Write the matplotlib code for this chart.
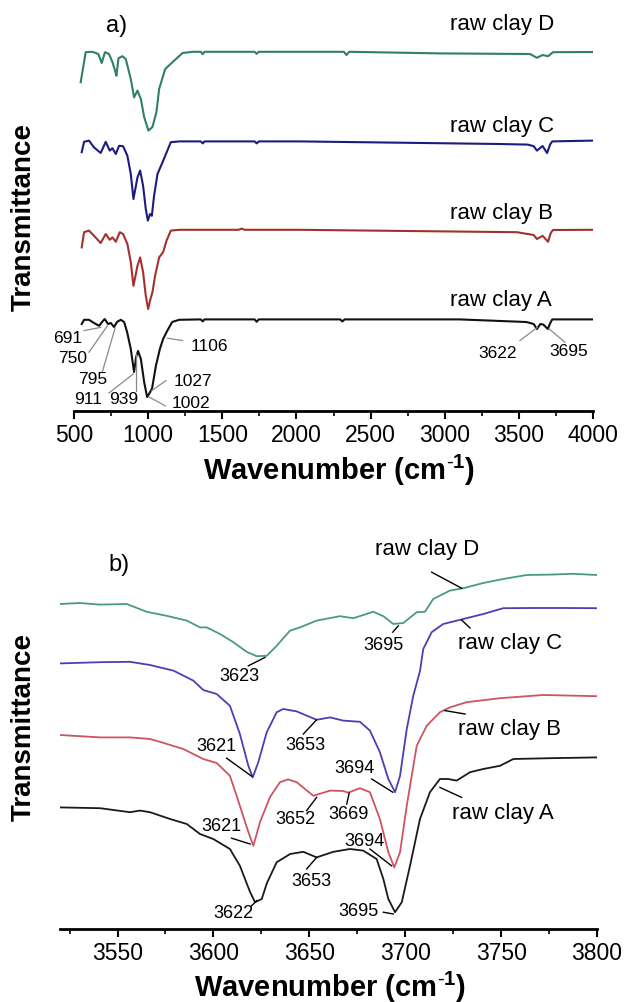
import numpy as np
import matplotlib.pyplot as plt
from matplotlib.ticker import MultipleLocator

plt.rcParams['font.family'] = ['Liberation Sans', 'DejaVu Sans']
plt.rcParams['mathtext.fontset'] = 'custom'
plt.rcParams['mathtext.rm'] = 'Liberation Sans'
plt.rcParams['mathtext.bf'] = 'Liberation Sans:bold'

# ---- panel a) full range, (wavenumber, transmittance a.u., stacked)
a_A = np.array([(552, 23.75), (568, 24.8), (601, 24.8), (635, 24.0), (669, 23.3), (689, 24.25),
                (707, 25.0), (730, 23.75), (748, 24.0), (770, 23.0), (791, 24.3), (816, 24.8),
                (838, 24.25), (858, 21.75), (883, 17.5), (905, 11.75), (919, 15.5), (932, 17.0),
                (951, 15.0), (973, 9.25), (993, 5.5), (1014, 6.75), (1027, 7.75), (1052, 13.25),
                (1079, 17.5), (1101, 20.0), (1128, 22.0), (1162, 24.25), (1209, 24.8), (1355, 24.9),
                (1368, 24.4), (1380, 24.9), (1718, 24.9), (1732, 24.3), (1746, 24.9), (2295, 24.9),
                (2310, 24.4), (2325, 24.9), (3100, 24.9), (3550, 24.25), (3600, 23.75), (3622, 22.5),
                (3645, 23.75), (3665, 23.6), (3695, 22.5), (3712, 24.0), (3725, 24.9), (4000, 24.9)])
a_B = np.array([(552, 42.9), (568, 46.7), (601, 47.1), (635, 45.8), (680, 44.0), (714, 46.25),
                (741, 44.8), (759, 45.4), (782, 44.3), (809, 46.7), (831, 46.25), (860, 43.75),
                (883, 39.2), (901, 33.3), (928, 38.3), (946, 40.4), (966, 36.7), (984, 30.8),
                (1000, 27.5), (1013, 29.6), (1029, 31.7), (1047, 35.8), (1074, 40.4), (1101, 41.7),
                (1124, 44.6), (1153, 47.1), (1210, 47.3), (1610, 47.3), (1630, 47.6), (1650, 47.3),
                (2020, 47.3), (3487, 46.7), (3600, 46.0), (3622, 45.0), (3660, 45.8), (3697, 44.3),
                (3715, 46.5), (3730, 47.25), (4000, 47.3)])
a_C = np.array([(552, 66.7), (568, 69.3), (601, 69.6), (635, 67.9), (680, 66.5), (714, 69.3),
                (741, 67.1), (759, 67.7), (782, 66.25), (804, 68.3), (831, 68.2), (860, 65.8),
                (883, 61.25), (901, 55.0), (928, 60.4), (946, 62.1), (966, 58.3), (984, 52.5),
                (998, 49.6), (1013, 51.25), (1025, 50.8), (1040, 55.8), (1063, 61.25), (1092, 63.75),
                (1120, 66.25), (1153, 69.2), (1210, 69.4), (1355, 69.4), (1368, 68.9), (1380, 69.4),
                (1718, 69.4), (1732, 68.9), (1746, 69.4), (2020, 69.4), (3372, 68.75), (3560, 68.6),
                (3600, 68.2), (3622, 67.1), (3660, 68.25), (3690, 66.5), (3712, 68.7), (3725, 69.4),
                (4000, 69.6)])
a_D = np.array([(545, 84.2), (579, 91.7), (624, 91.8), (664, 91.25), (687, 89.0), (709, 91.7),
                (736, 91.25), (759, 89.25), (777, 87.1), (786, 85.8), (800, 90.2), (826, 90.7),
                (849, 90.0), (883, 85.0), (905, 80.4), (928, 82.1), (951, 80.0), (973, 75.5),
                (1002, 72.1), (1029, 73.0), (1056, 76.75), (1074, 82.5), (1115, 87.5), (1164, 89.2),
                (1232, 91.5), (1300, 91.8), (1355, 91.8), (1368, 91.2), (1380, 91.8), (1718, 91.8),
                (1732, 91.3), (1746, 91.8), (2320, 91.8), (2338, 91.0), (2356, 91.8), (2966, 91.4),
                (3575, 91.25), (3622, 90.3), (3660, 91.0), (3697, 90.7), (3730, 91.7), (4000, 91.75)])

# ---- panel b) OH stretching region
b_A = np.array([(3520, 32.9), (3540.9, 32.7), (3556.5, 31.7), (3561.7, 32.1), (3566.9, 31.7),
                (3577.4, 30.0), (3586.1, 28.75), (3593, 26.25), (3599.9, 25.0), (3608.6, 22.5),
                (3613.8, 18.3), (3619.1, 11.75), (3621.7, 9.2), (3625.2, 10.0), (3627.9, 14.0),
                (3633, 19.2), (3640, 21.25), (3646.9, 21.8), (3653.8, 20.4), (3662.5, 21.8),
                (3671.2, 22.5), (3678.1, 22.1), (3685.1, 20.0), (3688.6, 15.0), (3691.2, 10.0),
                (3694.7, 6.7), (3698.2, 9.2), (3702.5, 18.3), (3707.7, 30.0), (3712.9, 36.7),
                (3718.1, 40.0), (3722.4, 40.0), (3726.8, 39.6), (3733.8, 41.7), (3740.7, 42.5),
                (3749.4, 43.3), (3756.4, 45.0), (3775.5, 45.2), (3800, 45.4)])
b_B = np.array([(3520, 51.0), (3540.9, 50.4), (3556.5, 50.4), (3566.9, 50.0), (3572.1, 49.3),
                (3584.3, 47.5), (3594.7, 45.0), (3601.7, 44.0), (3608.6, 40.8), (3612.3, 35.5),
                (3618.2, 26.75), (3620.8, 23.3), (3624.3, 29.25), (3629.5, 35.5), (3634.7, 39.2),
                (3638.9, 39.9), (3643.4, 39.2), (3652.1, 35.8), (3660.8, 37.1), (3667.5, 37.0),
                (3670.3, 36.6), (3676.4, 37.7), (3681.6, 36.7), (3686.8, 30.0), (3691.2, 21.7),
                (3694.3, 17.9), (3697.3, 21.7), (3700.8, 33.3), (3706, 48.3), (3711.2, 53.3),
                (3718.1, 56.7), (3723.3, 57.9), (3732, 59.2), (3749.4, 60.2), (3772, 61.0),
                (3800, 60.7)])
b_C = np.array([(3520, 68.9), (3540.9, 69.2), (3556.5, 69.3), (3566.9, 68.5), (3579.1, 67.1),
                (3589.5, 64.6), (3594.7, 62.25), (3601.7, 61.25), (3608.6, 58.3), (3613.8, 51.25),
                (3618.2, 43.3), (3620.5, 40.4), (3623.4, 44.2), (3627.8, 51.7), (3633, 56.7),
                (3636.4, 57.5), (3643.4, 56.9), (3653.8, 54.8), (3660.8, 55.4), (3667.7, 54.6),
                (3676.4, 54.3), (3681.6, 52.1), (3686.8, 46.7), (3691.2, 40.0), (3694.7, 36.7),
                (3697.3, 40.8), (3700.8, 52.5), (3704.2, 60.8), (3707.7, 67.0), (3709.4, 72.5),
                (3713.8, 76.7), (3719.8, 78.75), (3730.3, 80.0), (3740.7, 81.25), (3751.1, 82.7),
                (3766.8, 82.75), (3784.2, 82.75), (3800, 82.7)])
b_D = np.array([(3520, 83.75), (3530.4, 84.0), (3540.9, 83.6), (3554.8, 83.75), (3565.2, 81.8),
                (3575.6, 80.8), (3586.1, 79.6), (3593, 77.9), (3596.5, 77.9), (3603.4, 76.25),
                (3610.4, 74.2), (3617.3, 71.8), (3622.6, 70.7), (3627.8, 70.8), (3633, 73.3),
                (3636.4, 75.2), (3640, 77.1), (3645.1, 77.9), (3653.8, 79.6), (3666, 80.7),
                (3672.9, 80.2), (3683.4, 81.8), (3688.6, 80.7), (3693.8, 78.75), (3699, 79.0),
                (3706, 81.7), (3710.3, 81.8), (3714.6, 85.0), (3723.3, 87.1), (3730.3, 87.7),
                (3740.7, 89.0), (3751.1, 90.0), (3763.3, 91.0), (3775.5, 91.1), (3787.6, 91.3),
                (3800, 91.0)])

names = ['raw clay A', 'raw clay B', 'raw clay C', 'raw clay D']
colors_a = ['#111111', '#a3302e', '#1c1c7e', '#2f7f6a']
colors_b = ['#1a1a1a', '#cc5560', '#4a40b0', '#4a9a80']

# peak labels: text, text position, leader line start, leader line end
peaks_a = [('691', 455, 20.4, 568, 22.1, 680, 22.9),
           ('750', 488, 15.4, 601, 16.7, 725, 23.3),
           ('795', 624, 10.0, 691, 11.8, 777, 22.7),
           ('911', 597, 5.0, 736, 6.5, 899, 11.25),
           ('939', 838, 5.0, 921, 7.1, 921, 16.25),
           ('1027', 1304, 9.6, 1120, 9.6, 1025, 7.1),
           ('1002', 1288, 4.2, 1115, 3.3, 1007, 5.5),
           ('1106', 1412, 18.3, 1232, 19.6, 1130, 20.2),
           ('3622', 3360, 16.7, 3507, 19.6, 3624, 22.9),
           ('3695', 3833, 17.1, 3811, 19.2, 3705, 22.5)]
peaks_b = [('3623', 3613.8, 65.8, 3618.2, 68.3, 3626.9, 70.4),
           ('3695', 3688.6, 73.75, 3693.5, 76.7, 3696.4, 78.3),
           ('3621', 3601.7, 48.3, 3606.9, 45.2, 3619.9, 40.7),
           ('3653', 3647.7, 48.75, 3646.9, 51.25, 3653.8, 54.8),
           ('3694', 3673.8, 42.9, 3682.5, 40.0, 3693.5, 36.7),
           ('3621', 3604.3, 28.3, 3609.5, 25.2, 3619.1, 23.75),
           ('3652', 3642.9, 30.0, 3648.6, 32.1, 3653.8, 35.4),
           ('3669', 3670.7, 31.25, 3669.5, 33.75, 3670.8, 36.5),
           ('3694', 3678.5, 24.6, 3681.6, 22.5, 3692.9, 18.3),
           ('3653', 3651.2, 14.6, 3648.6, 17.5, 3653.8, 20.4),
           ('3622', 3610.4, 6.7, 3619.9, 8.3, 3622.6, 9.6),
           ('3695', 3675.5, 7.1, 3688.6, 6.7, 3693.8, 6.25)]
names_b_pos = [(3724.4, 31.7, 3718.1, 37.9, 3729.4, 35.4),
               (3727.5, 52.5, 3720.7, 57.1, 3731.2, 56.25),
               (3727.5, 74.2, 3729.4, 79.75, 3733.8, 77.75),
               (3684.2, 97.75, 3713.8, 91.7, 3729.4, 87.7)]
names_a_y = [29.75, 51.6, 73.25, 98.75]

fig = plt.figure(figsize=(6.3, 10.03), dpi=100)
ax1 = fig.add_axes([74 / 630, 1 - 412 / 1003, 519 / 630, 402 / 1003])
ax2 = fig.add_axes([60 / 630, 1 - 930 / 1003, 537 / 630, 385 / 1003])


def style(ax):
    for s in ['left', 'right', 'top']:
        ax.spines[s].set_visible(False)
    ax.spines['bottom'].set_linewidth(2.0)
    ax.set_yticks([])
    ax.tick_params(axis='x', which='major', direction='out', length=6, width=1.5,
                   labelsize=16.5, pad=3)
    ax.tick_params(axis='x', which='minor', direction='out', length=3.5, width=1.2)


for data, c in zip([a_A, a_B, a_C, a_D], colors_a):
    ax1.plot(data[:, 0], data[:, 1], color=c, lw=1.5)
ax1.set_xlim(500, 4000)
ax1.set_ylim(2, 102.5)
ax1.xaxis.set_major_locator(MultipleLocator(500))
ax1.xaxis.set_minor_locator(MultipleLocator(250))
style(ax1)
for n, y in zip(names, names_a_y):
    ax1.text(3034, y, n, fontsize=16, ha='left', va='center')
for lab, tx, ty, x0, y0, x1, y1 in peaks_a:
    ax1.plot([x0, x1], [y0, y1], color='#8a8a8a', lw=0.9, clip_on=False)
    ax1.text(tx, ty, lab, fontsize=12.5, ha='center', va='center')
ax1.text(790, 98.5, 'a)', fontsize=17, ha='center', va='center')

for data, c in zip([b_A, b_B, b_C, b_D], colors_b):
    ax2.plot(data[:, 0], data[:, 1], color=c, lw=1.3)
ax2.set_xlim(3520, 3800)
ax2.set_ylim(2.5, 98.75)
ax2.xaxis.set_major_locator(MultipleLocator(50))
ax2.xaxis.set_minor_locator(MultipleLocator(25))
style(ax2)
for n, (tx, ty, x0, y0, x1, y1) in zip(names, names_b_pos):
    ax2.plot([x0, x1], [y0, y1], color='black', lw=1.0, clip_on=False)
    ax2.text(tx, ty, n, fontsize=16, ha='left', va='center')
for lab, tx, ty, x0, y0, x1, y1 in peaks_b:
    ax2.plot([x0, x1], [y0, y1], color='black', lw=1.0, clip_on=False)
    ax2.text(tx, ty, lab, fontsize=13, ha='center', va='center')
ax2.text(3550.8, 93.75, 'b)', fontsize=17, ha='center', va='center')

xlab = 'Wavenumber (cm$^{\u2010\\mathbf{1}}$)'
fig.text(339 / 630, 1 - 470 / 1003, xlab, fontsize=21, fontweight='bold', ha='center', va='center')
fig.text(330 / 630, 1 - 987 / 1003, xlab, fontsize=21, fontweight='bold', ha='center', va='center')
fig.text(24 / 630, 1 - 217 / 1003, 'Transmittance', fontsize=20, fontweight='bold',
         rotation=90, ha='center', va='center')
fig.text(24 / 630, 1 - 727 / 1003, 'Transmittance', fontsize=20, fontweight='bold',
         rotation=90, ha='center', va='center')

fig.savefig('out.png', dpi=100)
